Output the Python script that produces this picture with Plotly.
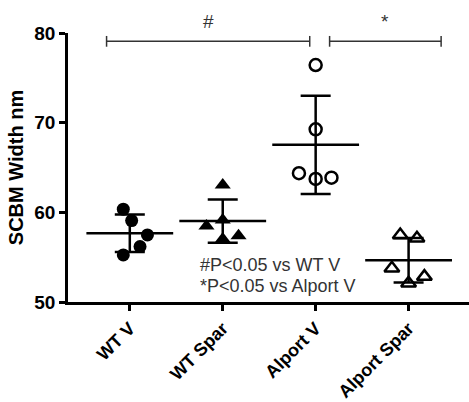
import numpy as np
import plotly.graph_objects as go

categories = ["WT V", "WT Spar", "Alport V", "Alport Spar"]
wt_v = [60.35, 59.08, 57.48, 56.18, 55.25]
wt_spar = [63.05, 59.15, 58.48, 57.40, 57.03]
alport_v = [76.43, 69.26, 64.36, 63.72, 63.87]
alport_spar = [57.48, 57.11, 53.77, 52.83, 52.09]
# horizontal scatter offsets (jitter) of the individual points
jit_wt_v = [-0.07, 0.02, 0.19, 0.11, -0.07]
jit_wt_spar = [0.0, 0.0, -0.175, 0.17, 0.0]
jit_alport_v = [0.0, 0.0, -0.18, 0.0, 0.17]
jit_alport_spar = [-0.09, 0.09, -0.18, 0.17, 0.0]
y_ticks = [50, 60, 70, 80]
note_lines = ["#P<0.05 vs WT V", "*P<0.05 vs Alport V"]

groups = [wt_v, wt_spar, alport_v, alport_spar]
jits = [jit_wt_v, jit_wt_spar, jit_alport_v, jit_alport_spar]
symbols = ["circle", "triangle-up", "circle-open", "triangle-up-open"]
sizes = [13, 14, 12, 13]

fig = go.Figure()
xs = list(range(len(categories)))
means = [float(np.mean(g)) for g in groups]
sds = [float(np.std(g, ddof=1)) for g in groups]

# mean + SD
fig.add_trace(go.Scatter(
    x=xs, y=means, mode="markers",
    marker=dict(symbol="line-ew-open", size=62, color="black", line=dict(color="black", width=2.5)),
    error_y=dict(type="data", array=sds, visible=True, color="black", thickness=2.5, width=15),
    showlegend=False, hoverinfo="skip"))

for i, (g, j) in enumerate(zip(groups, jits)):
    fig.add_trace(go.Scatter(
        x=[i + d for d in j], y=g, mode="markers",
        marker=dict(symbol=symbols[i], size=sizes[i], color="black",
                    line=dict(color="black", width=2.5 if "open" in symbols[i] else 0)),
        showlegend=False, cliponaxis=False))

# significance brackets
brackets = [(-0.25, 1.936, "#"), (2.15, 3.35, "*")]
by = 79.07
for x0, x1, lab in brackets:
    fig.add_shape(type="line", x0=x0, x1=x1, y0=by, y1=by, xref="x", yref="y",
                  line=dict(color="#333", width=1.5))
    for xx in (x0, x1):
        fig.add_shape(type="line", x0=xx, x1=xx, y0=by - 0.6, y1=by + 0.6, xref="x", yref="y",
                      line=dict(color="#333", width=1.5))
    fig.add_annotation(x=(x0 + x1) / 2, y=by, yref="y", xref="x", text=lab, showarrow=False,
                       yanchor="bottom", yshift=7, font=dict(size=19, color="#333", family="Liberation Sans"))

fig.add_annotation(x=0.73, y=54.13, xref="x", yref="y", text=note_lines[0], showarrow=False,
                   xanchor="left", yanchor="middle", font=dict(size=18, color="#333", family="Liberation Sans"))
fig.add_annotation(x=0.73, y=51.75, xref="x", yref="y", text=note_lines[1], showarrow=False,
                   xanchor="left", yanchor="middle", font=dict(size=18, color="#333", family="Liberation Sans"))

fig.update_layout(
    width=469, height=402,
    margin=dict(l=68, r=0, t=33, b=100),
    plot_bgcolor="white", paper_bgcolor="white",
    font=dict(family="Liberation Sans", color="black"),
    xaxis=dict(range=[-0.665, 3.65], tickvals=xs, ticktext=categories, tickangle=-45,
               automargin=False,
               showgrid=False, zeroline=False, showline=True, linecolor="black", linewidth=2.5,
               ticks="outside", ticklen=6, tickwidth=2.5, tickcolor="black",
               tickfont=dict(size=18, family="Liberation Sans", color="black", weight="bold")),
    yaxis=dict(range=[50, 80], tickvals=y_ticks, showgrid=False, zeroline=False,
               automargin=False,
               showline=True, linecolor="black", linewidth=2.5,
               ticks="outside", ticklen=6, tickwidth=2.5, tickcolor="black",
               tickfont=dict(size=19, family="Liberation Sans", color="black", weight="bold"),
               title=dict(text="SCBM Width nm", standoff=6,
                          font=dict(size=20, family="Liberation Sans", color="black", weight="bold"))),
)

fig.write_html("out.html")
